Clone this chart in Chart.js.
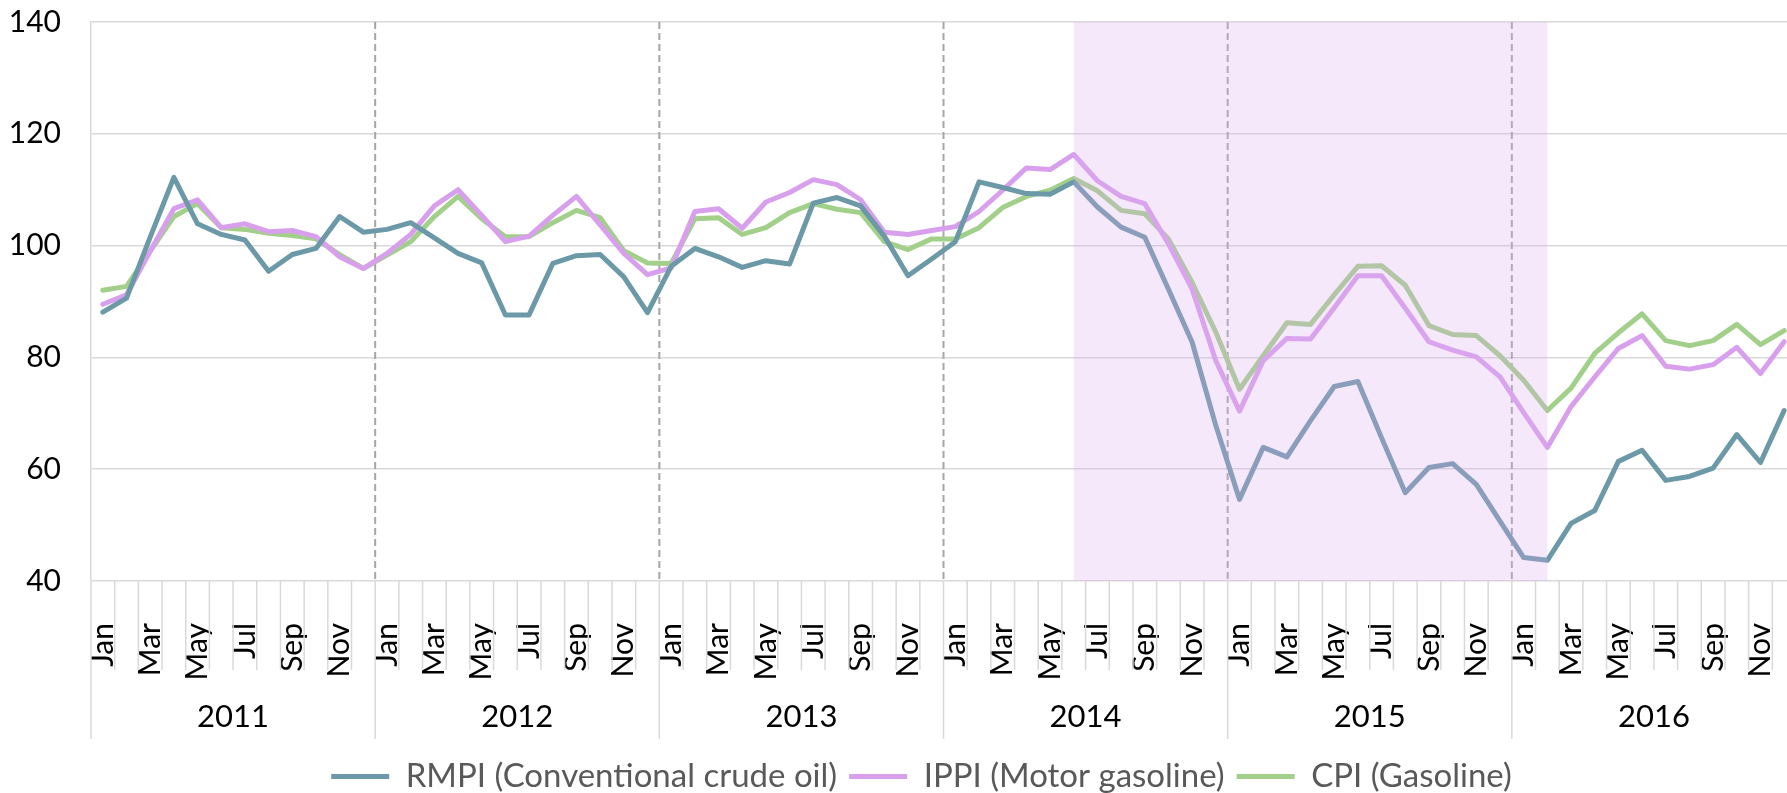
<!DOCTYPE html>
<html>
<head>
<meta charset="utf-8">
<script src="https://cdn.jsdelivr.net/npm/chart.js@4/dist/chart.umd.min.js"></script>
<style>
  html, body { margin: 0; padding: 0; overflow: hidden; background: #fff; }
</style>
</head>
<body>
<canvas id="myChart" width="1800" height="793"></canvas>
<script>
// data (index, monthly, 2011-2016)
const years = ['2011', '2012', '2013', '2014', '2015', '2016'];
const months = ['Jan', 'Feb', 'Mar', 'Apr', 'May', 'Jun', 'Jul', 'Aug', 'Sep', 'Oct', 'Nov', 'Dec'];

const rmpi = [
  88.1, 90.6, 101.5, 112.2, 103.9, 102.0, 101.0, 95.4, 98.4, 99.5, 105.2, 102.4,
  102.9, 104.1, 101.4, 98.6, 96.9, 87.6, 87.6, 96.8, 98.2, 98.4, 94.4, 88.0,
  96.3, 99.5, 98.0, 96.1, 97.3, 96.7, 107.6, 108.6, 107.1, 101.7, 94.6, 97.6,
  100.7, 111.4, 110.4, 109.3, 109.2, 111.4, 106.9, 103.3, 101.5, 92.2, 82.7, 67.8,
  54.6, 63.9, 62.2, 68.7, 74.8, 75.7, 65.6, 55.8, 60.3, 61.0, 57.3, 50.7,
  44.2, 43.7, 50.3, 52.6, 61.4, 63.4, 58.0, 58.7, 60.2, 66.2, 61.2, 70.5
];
const ippi = [
  89.5, 91.2, 99.0, 106.6, 108.2, 103.2, 103.9, 102.5, 102.7, 101.6, 98.0, 95.9,
  98.6, 102.0, 107.1, 110.0, 105.4, 100.7, 101.7, 105.4, 108.8, 103.7, 98.6, 94.8,
  96.0, 106.1, 106.6, 103.1, 107.8, 109.5, 111.8, 110.9, 108.2, 102.4, 102.0, 102.7,
  103.4, 106.1, 109.9, 113.9, 113.6, 116.3, 111.6, 108.8, 107.5, 100.3, 92.2, 79.4,
  70.4, 79.4, 83.4, 83.3, 88.9, 94.6, 94.6, 88.8, 82.8, 81.3, 80.1, 76.5,
  70.1, 63.9, 71.2, 76.5, 81.6, 83.9, 78.4, 77.9, 78.7, 81.8, 77.1, 82.8
];
const cpi = [
  92.0, 92.7, 99.0, 105.2, 107.5, 103.2, 102.9, 102.2, 101.8, 101.2, 98.4, 95.9,
  98.3, 100.7, 105.2, 108.8, 104.8, 101.6, 101.6, 104.1, 106.3, 105.0, 99.1, 96.9,
  96.8, 104.8, 105.0, 102.0, 103.2, 105.9, 107.5, 106.5, 105.9, 100.7, 99.3, 101.2,
  101.2, 103.2, 106.8, 108.8, 109.9, 112.0, 109.8, 106.3, 105.7, 101.2, 93.4, 84.5,
  74.3, 80.3, 86.2, 85.9, 91.2, 96.3, 96.4, 92.9, 85.7, 84.1, 83.9, 80.3,
  75.9, 70.5, 74.5, 80.7, 84.4, 87.8, 83.0, 82.1, 83.0, 85.9, 82.3, 84.8
];

// shaded period: Jun 2014 .. Feb 2016 (category indexes)
const shadeFrom = 41;
const shadeTo = 61;

let labels = [];
years.forEach(function (y) {
  months.forEach(function (m) { labels.push(m); });
});

const fontFamily = "Lato, 'Liberation Sans', sans-serif";
const gridGrey = '#d9d9d9';
const plotBottom = 581;   // where the 40 gridline sits
const legendShift = { x: 18, y: 10 };

// dashed year lines, shaded band and the two-level axis underneath
const decor = {
  id: 'decor',
  afterLayout(chart) {
    const l = chart.legend;
    l.left += legendShift.x; l.right += legendShift.x;
    l.top += legendShift.y; l.bottom += legendShift.y;
  },
  beforeDatasetsDraw(chart) {
    const { ctx, chartArea: a, scales: { x } } = chart;
    ctx.save();
    ctx.strokeStyle = '#a6a6a6';
    ctx.lineWidth = 2;
    ctx.setLineDash([7, 4]);
    for (let k = 1; k < years.length; k++) {
      const px = (x.getPixelForValue(k * 12 - 1) + x.getPixelForValue(k * 12)) / 2;
      ctx.beginPath();
      ctx.moveTo(px, a.top);
      ctx.lineTo(px, a.bottom);
      ctx.stroke();
    }
    ctx.restore();
  },
  afterDatasetsDraw(chart) {
    const { ctx, chartArea: a, scales: { x } } = chart;
    ctx.save();
    ctx.fillStyle = 'rgba(218, 172, 240, 0.28)';
    const x0 = x.getPixelForValue(shadeFrom);
    const x1 = x.getPixelForValue(shadeTo);
    ctx.fillRect(x0, a.top, x1 - x0, a.bottom - a.top);
    ctx.restore();
  },
  afterDraw(chart) {
    const { ctx, chartArea: a, scales: { x } } = chart;
    const step = x.getPixelForValue(1) - x.getPixelForValue(0);
    ctx.save();
    ctx.strokeStyle = gridGrey;
    ctx.lineWidth = 1.5;
    for (let i = 0; i <= labels.length; i++) {
      const px = x.getPixelForValue(0) - step / 2 + i * step;
      ctx.beginPath();
      ctx.moveTo(px, a.bottom);
      ctx.lineTo(px, a.bottom + (i % 12 === 0 ? 158 : 89));
      ctx.stroke();
    }
    ctx.fillStyle = '#000';
    ctx.font = '31px ' + fontFamily;
    ctx.textAlign = 'center';
    ctx.textBaseline = 'middle';
    years.forEach(function (y, k) {
      const cx = (x.getPixelForValue(k * 12) + x.getPixelForValue(k * 12 + 11)) / 2;
      ctx.fillText(y, cx, a.bottom + 136);
    });
    ctx.restore();
  }
};

function lineSet(label, data, color) {
  return {
    label: label,
    data: data,
    borderColor: color,
    backgroundColor: color,
    borderWidth: 5,
    pointRadius: 0,
    tension: 0,
    borderJoinStyle: 'round',
    borderCapStyle: 'round'
  };
}

let ctx = document.getElementById('myChart').getContext('2d');

let myChart = new Chart(ctx, {
  type: 'line',
  data: {
    labels: labels,
    datasets: [
      lineSet('RMPI (Conventional crude oil)', rmpi, '#6b99a7'),
      lineSet('IPPI (Motor gasoline)', ippi, '#d8a0ec'),
      lineSet('CPI (Gasoline)', cpi, '#a2d08a')
    ]
  },
  plugins: [decor],
  options: {
    responsive: false,
    animation: false,
    layout: {
      padding: { left: 11, right: 4, top: 22, bottom: 0 }
    },
    plugins: {
      tooltip: { enabled: false },
      legend: {
        position: 'bottom',
        labels: {
          boxWidth: 58,
          boxHeight: 5,
          padding: 12,
          color: '#595959',
          font: { size: 33, family: fontFamily },
          generateLabels: function (c) {
            return Chart.defaults.plugins.legend.labels.generateLabels(c).map(function (l) {
              l.lineWidth = 0;
              return l;
            });
          }
        }
      }
    },
    scales: {
      x: {
        offset: true,
        grid: { display: false, drawTicks: false },
        border: { display: false },
        ticks: {
          autoSkip: false,
          maxRotation: 90,
          minRotation: 90,
          padding: 42,
          color: '#000',
          font: { size: 30, family: fontFamily },
          callback: function (v, i) { return i % 2 === 0 ? labels[i] : ''; }
        },
        afterFit: function (s) {
          s.height = s.chart.height - plotBottom - s.chart.legend.height;
          s.paddingLeft = 0;
          s.paddingRight = 0;
        }
      },
      y: {
        min: 40,
        max: 140,
        ticks: {
          stepSize: 20,
          padding: 30,
          color: '#000',
          font: { size: 30, family: fontFamily }
        },
        grid: { color: gridGrey, lineWidth: 1.5, drawTicks: false },
        border: { color: gridGrey, width: 1.5 },
        afterFit: function (s) {
          s.width = 80;
          s.paddingTop = 0;
          s.paddingBottom = 0;
        }
      }
    }
  }
});
</script>
</body>
</html>
